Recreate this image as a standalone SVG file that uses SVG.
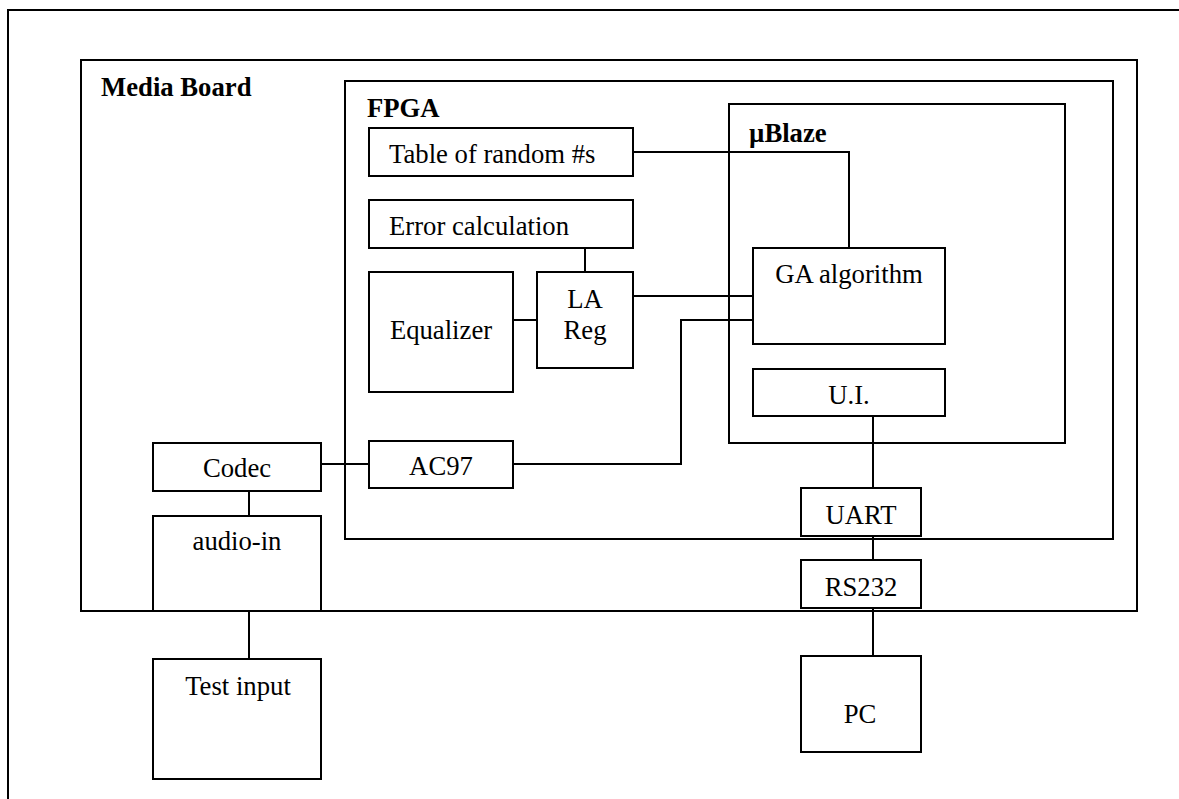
<svg xmlns="http://www.w3.org/2000/svg" width="1179" height="799" viewBox="0 0 1179 799">
<style>
rect{fill:none;stroke:#000;stroke-width:2}
.c path,.c line{fill:none;stroke:#000;stroke-width:2}
text{font-size:26.7px;fill:#000}
.b{font-weight:bold}
.m{text-anchor:middle}
</style>
<rect x="0" y="0" width="1179" height="799" style="fill:#fff;stroke:none"/>
<g font-family="Liberation Serif, Tinos, Times New Roman, DejaVu Serif, serif">
<g id="frame"><rect x="8" y="10" width="1200" height="820"/></g>
<g id="media-board"><rect x="81" y="60" width="1056" height="551"/><text class="b" x="101" y="96">Media Board</text></g>
<g id="fpga"><rect x="345" y="81" width="768" height="458"/><text class="b" x="367" y="117">FPGA</text></g>
<g id="ublaze"><rect x="729" y="104" width="336" height="339"/><text class="b" x="749" y="142">µBlaze</text></g>
<g id="table"><rect x="369" y="128" width="264" height="48"/><text x="389" y="163">Table of random #s</text></g>
<g id="error"><rect x="369" y="200" width="264" height="48"/><text x="389" y="235">Error calculation</text></g>
<g id="equalizer"><rect x="369" y="272" width="144" height="120"/><text class="m" x="441" y="339">Equalizer</text></g>
<g id="lareg"><rect x="537" y="272" width="96" height="96"/><text class="m" x="585" y="308">LA</text><text class="m" x="585" y="339">Reg</text></g>
<g id="ga"><rect x="753" y="248" width="192" height="96"/><text class="m" x="849" y="283">GA algorithm</text></g>
<g id="ui"><rect x="753" y="369" width="192" height="47"/><text class="m" x="849" y="404">U.I.</text></g>
<g id="ac97"><rect x="369" y="441" width="144" height="47"/><text class="m" x="441" y="475">AC97</text></g>
<g id="codec"><rect x="153" y="443" width="168" height="48"/><text class="m" x="237" y="477">Codec</text></g>
<g id="audio-in"><rect x="153" y="516" width="168" height="95"/><text class="m" x="237" y="550">audio-in</text></g>
<g id="test-input"><rect x="153" y="659" width="168" height="120"/><text class="m" x="238" y="695">Test input</text></g>
<g id="uart"><rect x="801" y="488" width="120" height="48"/><text class="m" x="861" y="524">UART</text></g>
<g id="rs232"><rect x="801" y="560" width="120" height="48"/><text class="m" x="861" y="596">RS232</text></g>
<g id="pc"><rect x="801" y="656" width="120" height="96"/><text class="m" x="860" y="723">PC</text></g>
</g>
<g id="connectors" class="c">
<path d="M633 152H849V248"/>
<line x1="585" y1="248" x2="585" y2="272"/>
<line x1="513" y1="320" x2="537" y2="320"/>
<line x1="633" y1="296" x2="753" y2="296"/>
<path d="M513 464H681V320H753"/>
<line x1="321" y1="464" x2="369" y2="464"/>
<line x1="249" y1="491" x2="249" y2="516"/>
<line x1="249" y1="611" x2="249" y2="659"/>
<line x1="873" y1="416" x2="873" y2="488"/>
<line x1="873" y1="536" x2="873" y2="560"/>
<line x1="873" y1="608" x2="873" y2="656"/>
</g>
</svg>
